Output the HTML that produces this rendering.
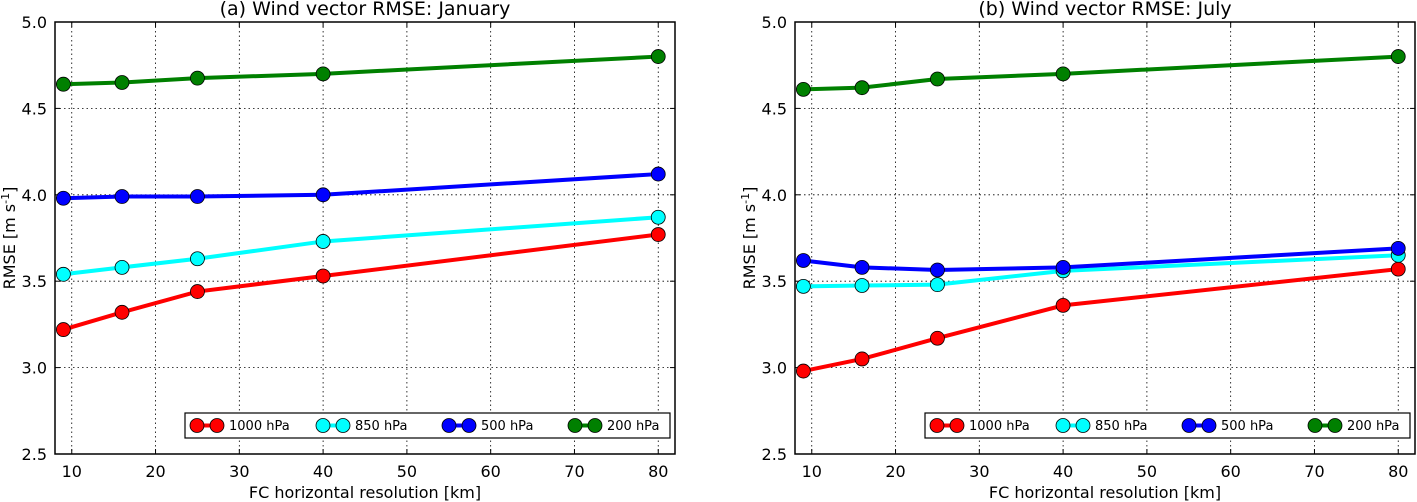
<!DOCTYPE html>
<html><head><meta charset="utf-8"><style>
html,body{margin:0;padding:0;background:#fff;}
svg{display:block;font-family:"DejaVu Sans","Liberation Sans",sans-serif;}
</style></head><body>
<svg id="chart" width="1417" height="502" viewBox="0 0 1417 502"></svg>
<script>
const resolutions = [9, 16, 25, 40, 80];
const levels = ["1000 hPa", "850 hPa", "500 hPa", "200 hPa"];
const colors = ["#ff0000", "#00ffff", "#0000ff", "#008000"];
const janValues = [
  [3.22, 3.32, 3.44, 3.53, 3.77],
  [3.54, 3.58, 3.63, 3.73, 3.87],
  [3.98, 3.99, 3.99, 4.00, 4.12],
  [4.64, 4.65, 4.675, 4.70, 4.80]
];
const julValues = [
  [2.98, 3.05, 3.17, 3.36, 3.57],
  [3.47, 3.475, 3.48, 3.56, 3.65],
  [3.62, 3.58, 3.565, 3.58, 3.69],
  [4.61, 4.62, 4.67, 4.70, 4.80]
];
const xTicks = [10, 20, 30, 40, 50, 60, 70, 80];
const yTicks = [2.5, 3.0, 3.5, 4.0, 4.5, 5.0];
const titles = ["(a) Wind vector RMSE: January", "(b) Wind vector RMSE: July"];

const svg = document.getElementById('chart');
const NS = 'http://www.w3.org/2000/svg';
function mk(tag, attrs, parent) {
  const e = document.createElementNS(NS, tag);
  for (const k in attrs) e.setAttribute(k, attrs[k]);
  (parent || svg).appendChild(e);
  return e;
}

function panel(px, values, title, idx) {
  const g = mk('g', {});
  
  
  const L = px, R = px + 620, T = 22, B = 454;
  const xs = v => L + (v - 8) / 74 * (R - L);
  const ys = v => B - (v - 2.5) / 2.5 * (B - T);
  xTicks.forEach(t => {
    const l = mk('line', {x1: xs(t), x2: xs(t), y1: T, y2: B, stroke: '#000', 'stroke-width': 0.8, 'stroke-dasharray': '1.5,3'}, g);
    
    
    const tk = mk('text', {x: xs(t), y: B + 23, 'text-anchor': 'middle', 'font-size': 16}, g);
    tk.textContent = t;
    
    
    mk('line', {x1: xs(t), x2: xs(t), y1: B, y2: B - 5, stroke: '#000'}, g);
    mk('line', {x1: xs(t), x2: xs(t), y1: T, y2: T + 5, stroke: '#000'}, g);
  });
  yTicks.forEach(t => {
    if (t > 2.5 && t < 5.0) {
      const l = mk('line', {x1: L, x2: R, y1: ys(t), y2: ys(t), stroke: '#000', 'stroke-width': 0.8, 'stroke-dasharray': '1.5,3'}, g);
      
      
    }
    const tk = mk('text', {x: L - 8, y: ys(t) + 6, 'text-anchor': 'end', 'font-size': 16}, g);
    tk.textContent = t.toFixed(1);
    
    
    mk('line', {x1: L, x2: L + 5, y1: ys(t), y2: ys(t), stroke: '#000'}, g);
    mk('line', {x1: R, x2: R - 5, y1: ys(t), y2: ys(t), stroke: '#000'}, g);
  });
  values.forEach((vals, si) => {
    const sg = mk('g', {}, g);
    
    
    mk('polyline', {points: vals.map((v, i) => xs(resolutions[i]) + ',' + ys(v)).join(' '), fill: 'none', stroke: colors[si], 'stroke-width': 4}, sg);
    vals.forEach((v, i) => {
      const c = mk('circle', {cx: xs(resolutions[i]), cy: ys(v), r: 7, fill: colors[si], stroke: '#000', 'stroke-width': 0.8}, sg);
      
      
    });
  });
  const fr = mk('rect', {x: L, y: T, width: R - L, height: B - T, fill: 'none', stroke: '#000', 'stroke-width': 1.5}, g);
  
  
  const tt = mk('text', {x: (L + R) / 2, y: 15, 'text-anchor': 'middle', 'font-size': 19}, g);
  tt.textContent = title;
  
  
  const xl = mk('text', {x: (L + R) / 2, y: 498, 'text-anchor': 'middle', 'font-size': 16}, g);
  xl.textContent = 'FC horizontal resolution [km]';
  
  
  const yl = mk('text', {x: 0, y: 0, 'text-anchor': 'middle', 'font-size': 16, transform: 'translate(' + (L - 40) + ',' + ((T + B) / 2) + ') rotate(-90)'}, g);
  yl.innerHTML = 'RMSE [m s<tspan dy="-6" font-size="11">-1</tspan><tspan dy="6">]</tspan>';
  
  
  const lx = R - 490, ly = 413;
  const lg = mk('g', {}, g);
  
  
  mk('rect', {x: lx, y: ly, width: 485, height: 25, fill: '#fff', stroke: '#000', 'stroke-width': 1.2}, lg);
  levels.forEach((lv, si) => {
    const ex = lx + 5 + si * 126;
    const eg = mk('g', {}, lg);
    
    
    mk('line', {x1: ex + 7, x2: ex + 27, y1: ly + 12.5, y2: ly + 12.5, stroke: colors[si], 'stroke-width': 4}, eg);
    mk('circle', {cx: ex + 7, cy: ly + 12.5, r: 7, fill: colors[si], stroke: '#000', 'stroke-width': 0.8}, eg);
    mk('circle', {cx: ex + 27, cy: ly + 12.5, r: 7, fill: colors[si], stroke: '#000', 'stroke-width': 0.8}, eg);
    const t = mk('text', {x: ex + 39, y: ly + 17, 'font-size': 13}, eg);
    t.textContent = lv;
  });
}
panel(55, janValues, titles[0], 0);
panel(795, julValues, titles[1], 1);
</script>
</body></html>
